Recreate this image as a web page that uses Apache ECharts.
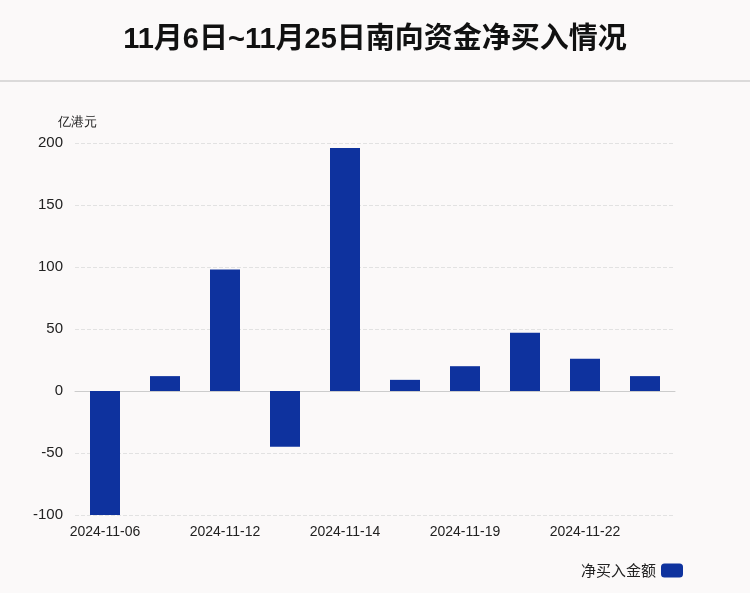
<!DOCTYPE html><html><head><meta charset="utf-8"><script src="https://cdn.jsdelivr.net/npm/echarts@6/dist/echarts.min.js"></script>
<style>body{margin:0;background:#fbf9f9}#c{width:750px;height:593px}</style></head><body><div id="c"></div><script>
const categories=['2024-11-06','2024-11-08','2024-11-12','2024-11-13','2024-11-14','2024-11-18','2024-11-19','2024-11-21','2024-11-22','2024-11-25'];
const values=[-100,12,98,-45,196,9,20,47,26,12];
const yTicks=[-100,-50,0,50,100,150,200];
const ch=echarts.init(document.getElementById('c'));
ch.setOption({backgroundColor:'#fbf9f9',
title:{text:'11月6日~11月25日南向资金净买入情况',left:'center',top:20,textStyle:{fontSize:29,fontWeight:'bold',color:'#111',fontFamily:'Liberation Sans, Noto Sans CJK SC'}},
graphic:[{type:'line',shape:{x1:0,y1:81,x2:750,y2:81},style:{stroke:'#bbb',lineWidth:1}}],
legend:{right:62,bottom:10,align:'right',itemWidth:22,itemHeight:14,textStyle:{fontSize:15,color:'#222',fontFamily:'Noto Sans CJK SC'}},
grid:{left:75,right:75,top:143,bottom:78},
xAxis:{type:'category',data:categories,axisTick:{show:false},axisLine:{lineStyle:{color:'#ccc'}},axisLabel:{interval:1,fontSize:14,color:'#222',margin:10}},
yAxis:{type:'value',min:-100,max:200,interval:50,name:'亿港元',nameGap:14,nameTextStyle:{fontSize:13,color:'#222',align:'right',padding:[0,-22,0,0]},
axisLabel:{fontSize:15,color:'#222',margin:12,formatter:v=>yTicks.includes(v)?v:''},splitLine:{lineStyle:{type:'dashed',color:'#e2e2e2'}}},
series:[{name:'净买入金额',type:'bar',data:values,barWidth:30,itemStyle:{color:'#0e329e'}}]});
</script></body></html>
